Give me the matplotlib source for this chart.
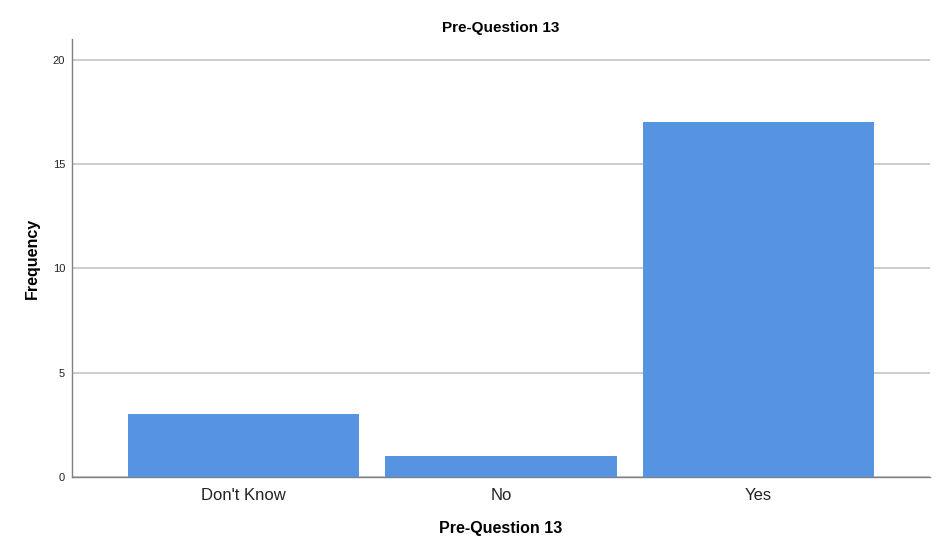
import matplotlib
matplotlib.use("Agg")
import matplotlib.pyplot as plt

categories = ["Don't Know", "No", "Yes"]
frequency = [3, 1, 17]
y_ticks = [0, 5, 10, 15, 20]

plt.rcParams['font.family'] = ['Liberation Sans', 'DejaVu Sans']

fig = plt.figure(figsize=(9.41, 5.54), dpi=100)
ax = fig.add_axes([72 / 941, 1 - 477 / 554, (930 - 72) / 941, (477 - 39) / 554])

x = range(len(categories))
ax.bar(x, frequency, width=0.9, color='#5694e2', edgecolor='none', zorder=3)

ax.set_xlim(-0.667, len(categories) - 1 + 0.667)
ax.set_ylim(0, 21)
ax.set_yticks(y_ticks)
ax.set_xticks(list(x))
ax.set_xticklabels(categories, fontsize=12, color='#222222')
ax.tick_params(axis='y', labelsize=8, length=0, pad=5, colors='#222222')
ax.tick_params(axis='x', length=0, pad=8)
ax.grid(axis='y', color='#c8c8c8', linewidth=1.3, zorder=0)
ax.set_axisbelow(True)

for side in ['top', 'right']:
    ax.spines[side].set_visible(False)
for side in ['left', 'bottom']:
    ax.spines[side].set_color('#808080')
    ax.spines[side].set_linewidth(1.0)

ax.set_title("Pre-Question 13", fontsize=11, fontweight='bold', pad=5)
ax.set_xlabel("Pre-Question 13", fontsize=11.5, fontweight='bold', labelpad=13)
ax.set_ylabel("Frequency", fontsize=11.5, fontweight='bold', labelpad=9)

fig.savefig("out.png", dpi=100)
